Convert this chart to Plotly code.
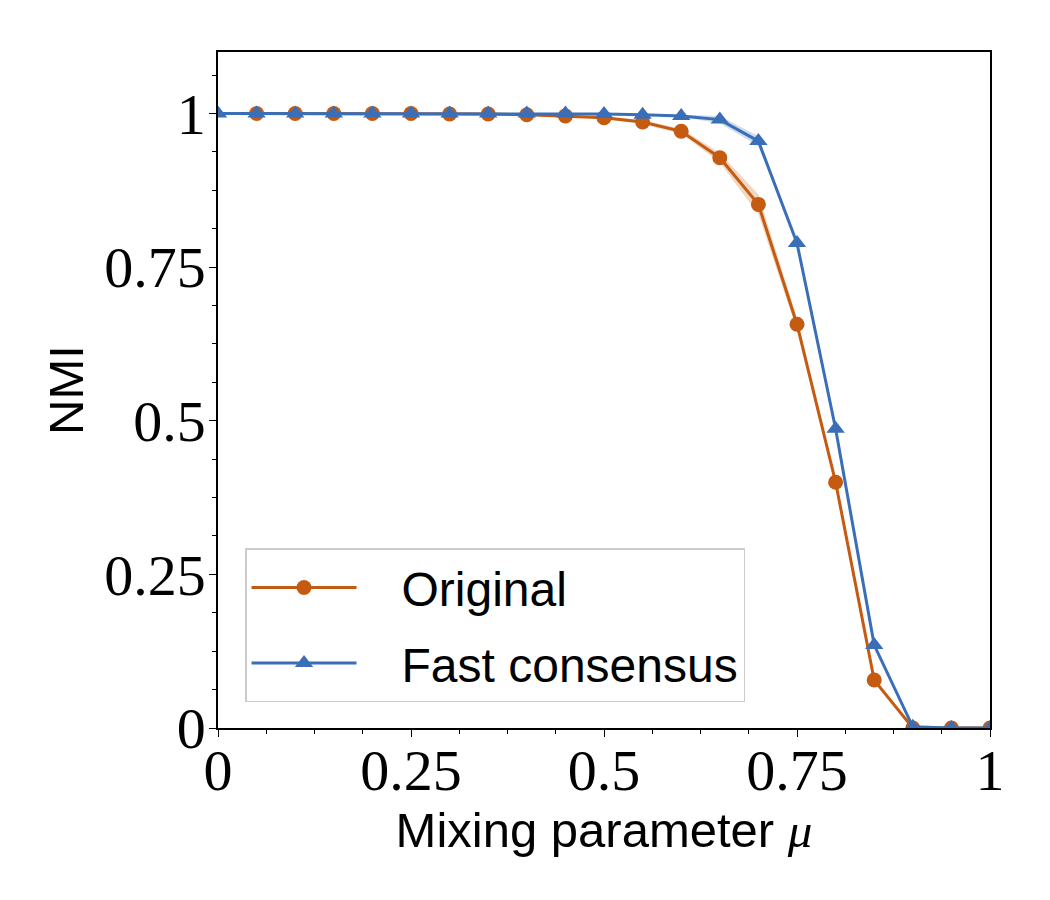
import plotly.graph_objects as go

# ---- data ----
mu_orig = [0.05, 0.10, 0.15, 0.20, 0.25, 0.30, 0.35, 0.40, 0.45, 0.50, 0.55,
           0.60, 0.65, 0.70, 0.75, 0.80, 0.85, 0.90, 0.95, 1.00]
nmi_orig = [1.0, 1.0, 1.0, 1.0, 1.0, 0.999, 0.999, 0.998, 0.996, 0.993, 0.986,
            0.971, 0.928, 0.852, 0.657, 0.400, 0.078, 0.0, 0.0, 0.0]
err_orig = [0, 0, 0, 0, 0, 0, 0, 0, 0.001, 0.002, 0.003,
            0.004, 0.008, 0.016, 0.010, 0.006, 0.004, 0.0, 0.0, 0.0]

mu_fast = [0.00, 0.05, 0.10, 0.15, 0.20, 0.25, 0.30, 0.35, 0.40, 0.45, 0.50,
           0.55, 0.60, 0.65, 0.70, 0.75, 0.80, 0.85, 0.90, 0.95, 1.00]
nmi_fast = [1.0, 1.0, 1.0, 1.0, 1.0, 1.0, 1.0, 1.0, 1.0, 1.0, 0.999,
            0.998, 0.996, 0.990, 0.955, 0.789, 0.487, 0.135, 0.002, 0.0, 0.0]
err_fast = [0, 0, 0, 0, 0, 0, 0, 0, 0, 0, 0,
            0.001, 0.002, 0.006, 0.008, 0.004, 0.003, 0.002, 0.0, 0.0, 0.0]

tick_vals = [0, 0.25, 0.5, 0.75, 1]
tick_text = ["0", "0.25", "0.5", "0.75", "1"]

ORANGE = "#c55a11"
BLUE = "#3a6fb8"

fig = go.Figure()

def band(x, y, e, color_rgba):
    upper = [a + b for a, b in zip(y, e)]
    lower = [a - b for a, b in zip(y, e)]
    fig.add_trace(go.Scatter(x=x, y=upper, mode="lines", line=dict(width=0),
                             showlegend=False, hoverinfo="skip"))
    fig.add_trace(go.Scatter(x=x, y=lower, mode="lines", line=dict(width=0),
                             fill="tonexty", fillcolor=color_rgba,
                             showlegend=False, hoverinfo="skip"))

band(mu_orig, nmi_orig, err_orig, "rgba(197,90,17,0.25)")
band(mu_fast, nmi_fast, err_fast, "rgba(58,111,184,0.25)")

NB = "\u00a0"
fig.add_trace(go.Scatter(x=mu_orig, y=nmi_orig, mode="lines+markers",
                         name=NB * 3 + "Original",
                         legendgroup="a", legendrank=1,
                         line=dict(color=ORANGE, width=3),
                         marker=dict(symbol="circle", size=15, color=ORANGE),
                         cliponaxis=True))
fig.add_trace(go.Scatter(x=mu_fast, y=nmi_fast, mode="lines+markers",
                         name=NB * 3 + "Fast consensus",
                         legendgroup="b", legendrank=2,
                         line=dict(color=BLUE, width=3),
                         marker=dict(symbol="triangle-up", size=16, color=BLUE),
                         cliponaxis=True))

tickfont = dict(family="Liberation Serif", size=58, color="black")
titlefont = dict(family="Liberation Sans", size=49, color="black")

fig.update_layout(
    width=1050, height=900,
    margin=dict(l=218, r=60, t=52, b=172),
    paper_bgcolor="white", plot_bgcolor="white",
    showlegend=True,
    legend=dict(x=0.035, y=0.038, xanchor="left", yanchor="bottom",
                font=dict(family="Liberation Sans", size=48, color="black"),
                bgcolor="rgba(255,255,255,0.8)", bordercolor="#cccccc", borderwidth=1.5,
                itemwidth=105, traceorder="grouped", tracegroupgap=10),
    xaxis=dict(range=[0, 1], tickvals=tick_vals, ticktext=tick_text,
               tickfont=tickfont, ticks="outside", ticklen=7, tickwidth=1.3, tickcolor="black",
               ticklabelstandoff=-16,
               minor=dict(dtick=0.0625, tick0=0, ticks="outside", ticklen=4, tickwidth=1, tickcolor="black"),
               showline=True, linecolor="black", linewidth=1.5, mirror=True,
               showgrid=False, zeroline=False, automargin=False,
               title=dict(text="Mixing parameter <span style='font-family:Liberation Serif;font-style:italic'>μ</span>",
                          font=titlefont, standoff=10)),
    yaxis=dict(range=[0, 1.1], tickvals=tick_vals, ticktext=tick_text,
               tickfont=tickfont, ticks="outside", ticklen=7, tickwidth=1.3, tickcolor="black",
               ticklabelstandoff=-8,
               minor=dict(dtick=0.0625, tick0=0, ticks="outside", ticklen=4, tickwidth=1, tickcolor="black"),
               showline=True, linecolor="black", linewidth=1.5, mirror=True,
               showgrid=False, zeroline=False, automargin=False,
               title=dict(text="NMI", font=titlefont, standoff=5)),
)

fig.write_html("out.html")
